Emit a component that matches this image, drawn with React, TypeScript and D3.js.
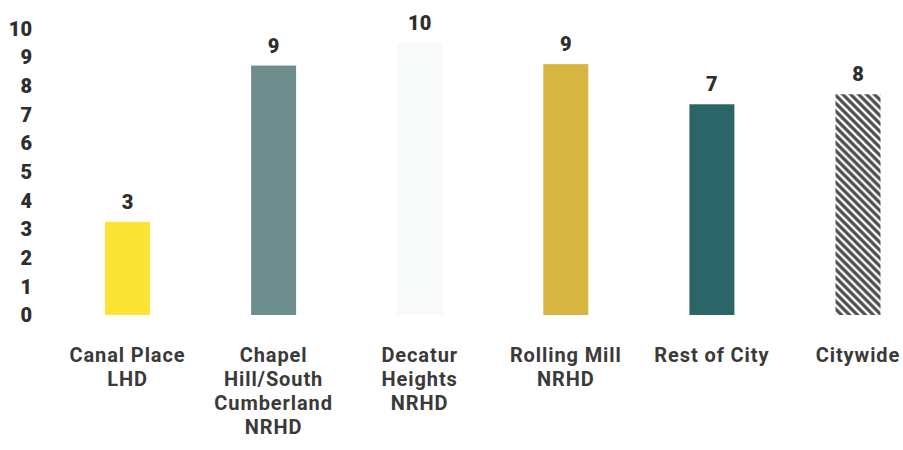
import React from "react";
import * as d3 from "d3";

const categories = ["Canal Place LHD", "Chapel Hill/South Cumberland NRHD", "Decatur Heights NRHD", "Rolling Mill NRHD", "Rest of City", "Citywide"];
const categoryLines = [
  ["Canal Place", "LHD"],
  ["Chapel", "Hill/South", "Cumberland", "NRHD"],
  ["Decatur", "Heights", "NRHD"],
  ["Rolling Mill", "NRHD"],
  ["Rest of City"],
  ["Citywide"],
];
const values = [3.25, 8.7, 9.5, 8.75, 7.35, 7.7];
const valueLabels = ["3", "9", "10", "9", "7", "8"];
const barColors = ["#FBE433", "#6E8E8E", "#F7FAF8", "#D6B540", "#2B6567", "url(#hatch)"];
const yTicks = [0, 1, 2, 3, 4, 5, 6, 7, 8, 9, 10];

const W = 903;
const H = 450;
const FONT = "Roboto, 'Open Sans', sans-serif";
const TEXT = "#2e2e2e";

export default function App() {
  const x = d3.scalePoint<string>().domain(categories).range([127.5, 858]);
  const y = d3.scaleLinear().domain([0, 10]).range([315, 28.3]);
  const bw = 45;
  return (
    <svg width={W} height={H} style={{ position: "absolute", left: 0, top: 0, background: "#fff" }}>
      <defs>
        <pattern id="hatch" width="5.6" height="5.6" patternUnits="userSpaceOnUse" patternTransform="rotate(-45)">
          <rect width="5.6" height="5.6" fill="#ffffff" />
          <line x1="2.8" y1="0" x2="2.8" y2="5.6" stroke="#4a4a4a" strokeWidth="3.2" />
        </pattern>
      </defs>
      {yTicks.map((t) => (
        <text key={t} x={32} y={y(t)} dy="0.36em" textAnchor="end" fontFamily={FONT} fontWeight={900} fontSize={20} fill={TEXT}>
          {t}
        </text>
      ))}
      {categories.map((c, i) => (
        <g key={c}>
          <rect x={(x(c) as number) - bw / 2} y={y(values[i])} width={bw} height={y(0) - y(values[i])} fill={barColors[i]} />
          <text x={x(c)} y={y(values[i]) - 13} textAnchor="middle" fontFamily={FONT} fontWeight={900} fontSize={20} fill={TEXT}>
            {valueLabels[i]}
          </text>
          {categoryLines[i].map((ln, j) => (
            <text key={j} x={x(c)} y={362 + j * 24} textAnchor="middle" fontFamily={FONT} fontWeight={700} fontSize={20} letterSpacing={0.9} fill="#3a3a3a">
              {ln}
            </text>
          ))}
        </g>
      ))}
    </svg>
  );
}
